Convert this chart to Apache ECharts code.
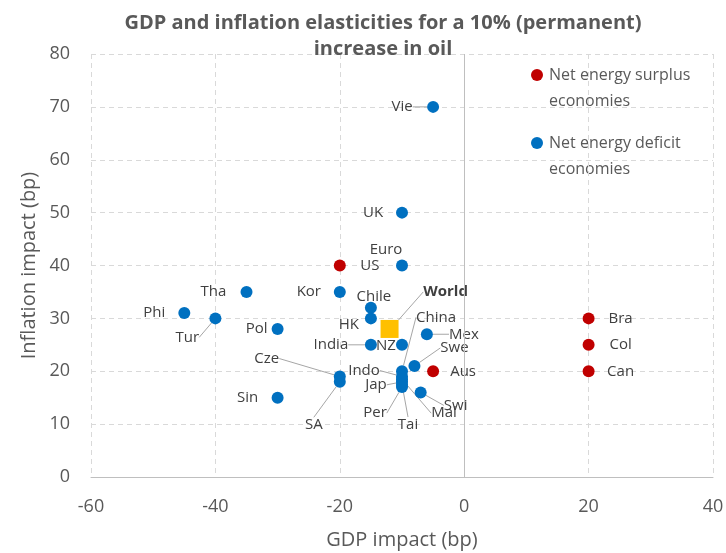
<!DOCTYPE html>
<html>
<head>
<meta charset="utf-8">
<script src="https://cdn.jsdelivr.net/npm/echarts@6/dist/echarts.min.js"></script>
<style>
  html, body { margin: 0; padding: 0; background: #ffffff; }
  #chart { width: 726px; height: 553px; }
</style>
</head>
<body>
<div id="chart"></div>
<script>
// GDP impact (bp) and inflation impact (bp) of a 10% permanent rise in oil prices
const surplusNames = ['US', 'Aus', 'Bra', 'Col', 'Can'];
const surplusGdp   = [-20, -5, 20, 20, 20];
const surplusInfl  = [40, 20, 30, 25, 20];

const deficitNames = ['Vie', 'UK', 'Euro', 'Kor', 'Tha', 'Phi', 'Tur', 'Pol', 'Sin', 'Chile', 'HK',
                      'India', 'NZ', 'Mex', 'China', 'Swe', 'Indo', 'Jap', 'Mal', 'Tai', 'Per', 'Swi', 'Cze', 'SA'];
const deficitGdp   = [-5, -10, -10, -20, -35, -45, -40, -30, -30, -15, -15,
                      -15, -10, -6, -10, -8, -10, -10, -10, -10, -10, -7, -20, -20];
const deficitInfl  = [70, 50, 40, 35, 35, 31, 30, 28, 15, 32, 30,
                      25, 25, 27, 20, 21, 19, 18, 18.5, 17.5, 17, 16, 19, 18];

const worldNames = ['World'];
const worldGdp   = [-12];
const worldInfl  = [28];

const xTicks = { min: -60, max: 40, step: 20 };
const yTicks = { min: 0, max: 80, step: 10 };

const legendNames = ['Net energy surplus economies', 'Net energy deficit economies'];

// Label placement: offset of label centre from the marker centre, in pixels
const labelOffsets = {
  US: [30, 0], Aus: [30, 0], Bra: [32, 0], Col: [32, 0], Can: [32, 0],
  Vie: [-31, 0], UK: [-29, 0], Euro: [-16, -16], Kor: [-31, 0], Tha: [-33, 0],
  Phi: [-30, 0], Tur: [-28, 19], Pol: [-21, 0], Sin: [-30, 0], Chile: [3, -11],
  HK: [-22, 6], India: [-40, 0], NZ: [-16, 1], Mex: [37, 0], China: [34, -54],
  Swe: [40, -18], Indo: [-38, -6], Jap: [-26, 3], Mal: [42, 34], Tai: [6, 40],
  Per: [-27, 26], Swi: [35, 13], Cze: [-73, -18], SA: [-26, 43], World: [56, -37]
};
const withLeader = new Set(['Tur', 'India', 'Mex', 'China', 'Swe', 'Indo', 'Jap', 'Mal',
                            'Tai', 'Per', 'Swi', 'Cze', 'SA', 'World', 'Vie']);

const FONT = '"Open Sans", "Noto Sans", sans-serif';
const TEXT = '#595959';

function points(names, xs, ys) {
  return names.map((n, i) => ({
    name: n,
    value: [xs[i], ys[i]],
    labelLine: { show: withLeader.has(n) }
  }));
}

function layoutFor(seriesNames) {
  return function (params) {
    const name = seriesNames[params.dataIndex];
    const off = labelOffsets[name] || [0, 0];
    const r = params.rect;
    return {
      x: r.x + r.width / 2 + off[0],
      y: r.y + r.height / 2 + off[1],
      align: 'center',
      verticalAlign: 'middle'
    };
  };
}

const labelStyle = {
  show: true,
  formatter: '{b}',
  color: '#404040',
  fontSize: 15,
  fontFamily: FONT
};
const leaderStyle = { show: true, lineStyle: { color: '#a6a6a6', width: 1 } };

const chart = echarts.init(document.getElementById('chart'), null, { renderer: 'canvas' });

chart.setOption({
  animation: false,
  backgroundColor: '#ffffff',
  title: {
    text: 'GDP and inflation elasticities for a 10% (permanent)\nincrease in oil',
    left: 378,
    textAlign: 'center',
    top: 5,
    textStyle: {
      color: TEXT, fontSize: 20, fontWeight: 'bold', fontFamily: FONT, lineHeight: 26
    }
  },
  grid: { left: 91, right: 13, top: 54, bottom: 76, outerBoundsMode: 'none' },
  xAxis: {
    type: 'value',
    min: xTicks.min, max: xTicks.max, interval: xTicks.step,
    name: 'GDP impact (bp)',
    nameLocation: 'middle',
    nameGap: 53,
    nameMoveOverlap: false,
    nameTextStyle: { color: TEXT, fontSize: 20, fontFamily: FONT },
    axisLine: { show: true, onZero: false, lineStyle: { color: '#bfbfbf', width: 1 } },
    axisTick: { show: false },
    axisLabel: { color: TEXT, fontSize: 18, fontFamily: FONT, margin: 21 },
    splitLine: { show: true, lineStyle: { color: '#d9d9d9', type: [5, 4], width: 1 } }
  },
  yAxis: {
    type: 'value',
    min: yTicks.min, max: yTicks.max, interval: yTicks.step,
    name: 'Inflation impact (bp)',
    nameLocation: 'middle',
    nameGap: 52,
    nameRotate: 90,
    nameMoveOverlap: false,
    nameTextStyle: { color: TEXT, fontSize: 20, fontFamily: FONT },
    axisLine: { show: false },
    axisTick: { show: false },
    axisLabel: { color: TEXT, fontSize: 18, fontFamily: FONT, margin: 21 },
    splitLine: { show: true, lineStyle: { color: '#d9d9d9', type: [5, 4], width: 1 } }
  },
  series: [
    {
      name: legendNames[1],
      type: 'scatter',
      symbol: 'circle',
      symbolSize: 12,
      itemStyle: { color: '#0070c0', opacity: 1 },
      data: points(deficitNames, deficitGdp, deficitInfl),
      label: labelStyle,
      labelLine: leaderStyle,
      labelLayout: layoutFor(deficitNames),
      markLine: {
        silent: true,
        symbol: 'none',
        label: { show: false },
        lineStyle: { color: '#bfbfbf', type: 'solid', width: 1 },
        data: [{ xAxis: 0 }]
      },
      z: 3
    },
    {
      name: legendNames[0],
      type: 'scatter',
      symbol: 'circle',
      symbolSize: 12,
      itemStyle: { color: '#c00000', opacity: 1 },
      data: points(surplusNames, surplusGdp, surplusInfl),
      label: labelStyle,
      labelLine: leaderStyle,
      labelLayout: layoutFor(surplusNames),
      z: 3
    },
    {
      name: 'World',
      type: 'scatter',
      symbol: 'rect',
      symbolSize: 18,
      itemStyle: { color: '#ffc000', opacity: 1 },
      data: points(worldNames, worldGdp, worldInfl),
      label: Object.assign({}, labelStyle, { fontWeight: 'bold' }),
      labelLine: leaderStyle,
      labelLayout: layoutFor(worldNames),
      z: 4
    }
  ],
  graphic: [
    { type: 'circle', shape: { cx: 537, cy: 75, r: 6 }, style: { fill: '#c00000' } },
    { type: 'text', left: 549, top: 62,
      style: { text: 'Net energy surplus\neconomies', fill: TEXT, fontSize: 16, fontFamily: FONT, lineHeight: 26 } },
    { type: 'circle', shape: { cx: 537, cy: 143, r: 6 }, style: { fill: '#0070c0' } },
    { type: 'text', left: 549, top: 130,
      style: { text: 'Net energy deficit\neconomies', fill: TEXT, fontSize: 16, fontFamily: FONT, lineHeight: 26 } }
  ]
});
</script>
</body>
</html>
